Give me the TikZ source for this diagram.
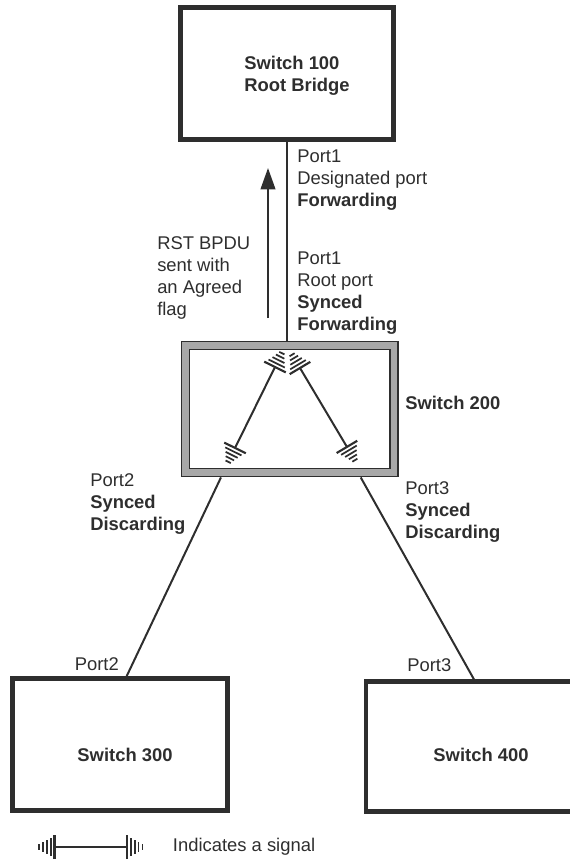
\documentclass[tikz,border=0pt]{standalone}
\usepackage{fontspec}
\setmainfont{Liberation Sans}
\usetikzlibrary{arrows.meta,decorations.markings,calc}

\definecolor{ink}{HTML}{2E2E2E}
\definecolor{band}{HTML}{A8A8A8}

% bars of a signal end, #1 = 1 at the end, -1 at the start
\newcommand{\sigbars}[1]{%
  \draw[ink,line width=1.6pt] (0,-9pt) -- (0,9pt);
  \foreach \d/\h in {1/6.8,2/5,3/3.5,4/2.2}
    \draw[ink,line width=1.3pt] (#1*\d*2.9pt,-\h*1pt) -- (#1*\d*2.9pt,\h*1pt);
}

\tikzset{
  switch/.style={draw=ink,line width=3.2pt,inner sep=0pt},
  boxtxt/.style={text=ink,font=\fontsize{13.8}{16.5}\selectfont\bfseries,align=left},
  txt/.style={text=ink,font=\fontsize{13.8}{16.5}\selectfont,align=left,inner sep=0pt,anchor=west},
  link/.style={draw=ink,line width=1.5pt},
  signal/.style={link,postaction={decorate},decoration={markings,
    mark=at position 0 with {\sigbars{-1}},
    mark=at position 1 with {\sigbars{1}}}}
}

\begin{document}
\begin{tikzpicture}[x=0.75pt,y=-0.75pt]
\useasboundingbox (0,0) rectangle (570,860);

% switches
\node[switch,minimum width=159.75pt,minimum height=99pt,
  label={[boxtxt,xshift=7.5pt,yshift=-2pt]center:Switch 100\\Root Bridge}] (sw100) at (287,73.5) {};
\node[switch,line width=1.2pt,double=band,double distance=5pt,outer sep=3.7pt,
  minimum width=156.4pt,minimum height=95.25pt] (sw200) at (289.75,409) {};
\node[switch,minimum width=161.25pt,minimum height=99pt,
  label={[boxtxt,xshift=3.75pt,yshift=-7.5pt]center:Switch 300}] (sw300) at (120,744.5) {};
\node[switch,minimum width=172.5pt,minimum height=97.5pt,
  label={[boxtxt,yshift=-6pt]center:Switch 400}] (sw400) at (481,746.5) {};

% links
\draw[link] (sw100.south) -- (sw100.south |- sw200.north); % port1
\draw[link] ($(sw200.south west)!0.185!(sw200.south east)$) -- ($(sw300.north west)!0.53!(sw300.north east)$); % port2
\draw[link] ($(sw200.south west)!0.825!(sw200.south east)$) -- ($(sw400.north west)!0.47!(sw400.north east)$); % port3

% signals inside switch 200
\coordinate (sigL1) at (275,367);
\coordinate (sigL2) at (235,448);
\coordinate (sigR1) at (300,368);
\coordinate (sigR2) at (347,447);
\draw[signal] (sigL1) -- (sigL2);
\draw[signal] (sigR1) -- (sigR2);

% BPDU arrow
\coordinate (bpduA) at (268,318);
\coordinate (bpduB) at (268,168);
\draw[link,-{Triangle[length=16pt,width=11pt]}] (bpduA) -- (bpduB);

% labels
\node[txt] (bpdu) at (157,277.5) {RST BPDU\\sent with\\an Agreed\\flag};
\node[txt] (p1up) at (297,180) {Port1\\Designated port\\\textbf{Forwarding}};
\node[txt] (p1dn) at (297,293.5) {Port1\\Root port\\\textbf{Synced}\\\textbf{Forwarding}};
\node[txt] (sw200lbl) at (405,403) {\textbf{Switch 200}};
\node[txt] (p2up) at (90,504) {Port2\\\textbf{Synced}\\\textbf{Discarding}};
\node[txt] (p3up) at (405,512) {Port3\\\textbf{Synced}\\\textbf{Discarding}};
\node[txt] (p2dn) at (74.5,664) {Port2};
\node[txt] (p3dn) at (407,665) {Port3};

% legend
\coordinate (legA) at (54.5,847);
\coordinate (legB) at (127,847);
\draw[signal] (legA) -- (legB);
\node[txt] (legtxt) at (172.7,847) {Indicates a signal};

\end{tikzpicture}
\end{document}
